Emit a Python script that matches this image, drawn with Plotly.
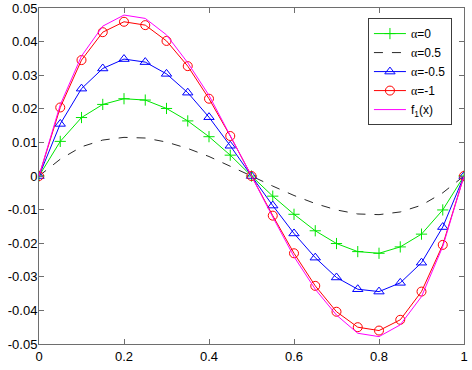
import plotly.graph_objects as go

x = [round(i * 0.05, 2) for i in range(21)]

alpha_0 = [0, 0.0103, 0.0174, 0.0213, 0.0230, 0.0226, 0.0201, 0.0164, 0.0117, 0.0062, 0,
           -0.0060, -0.0114, -0.0163, -0.0201, -0.0225, -0.0230, -0.0211, -0.0173, -0.0101, 0]
alpha_05 = [0, 0.0050, 0.0087, 0.0107, 0.0115, 0.0113, 0.0101, 0.0082, 0.0058, 0.0030, 0,
            -0.0030, -0.0058, -0.0082, -0.0101, -0.0113, -0.0115, -0.0107, -0.0087, -0.0050, 0]
alpha_m05 = [0, 0.0155, 0.0260, 0.0320, 0.0348, 0.0339, 0.0304, 0.0248, 0.0175, 0.0090, 0,
             -0.0088, -0.0171, -0.0243, -0.0302, -0.0337, -0.0344, -0.0318, -0.0258, -0.0152, 0]
alpha_m1 = [0, 0.0204, 0.0345, 0.0428, 0.0459, 0.0449, 0.0402, 0.0327, 0.0230, 0.0119, 0,
            -0.0118, -0.0230, -0.0327, -0.0404, -0.0450, -0.0460, -0.0428, -0.0344, -0.0205, 0]
f1 = [0, 0.0212, 0.0357, 0.0446, 0.0479, 0.0469, 0.0420, 0.0337, 0.0240, 0.0122, 0,
      -0.0122, -0.0240, -0.0337, -0.0414, -0.0468, -0.0478, -0.0443, -0.0359, -0.0210, 0]

x_ticks = [0, 0.2, 0.4, 0.6, 0.8, 1]
x_tick_text = ["0", "0.2", "0.4", "0.6", "0.8", "1"]
y_ticks = [-0.05, -0.04, -0.03, -0.02, -0.01, 0, 0.01, 0.02, 0.03, 0.04, 0.05]
y_tick_text = ["-0.05", "-0.04", "-0.03", "-0.02", "-0.01", "0", "0.01", "0.02", "0.03", "0.04", "0.05"]

A = '<span style="font-family:\'Liberation Serif\', serif">α</span>'

fig = go.Figure()
fig.add_trace(go.Scatter(x=x, y=alpha_0, mode="lines+markers", name=A + "=0",
                         line=dict(color="rgb(0,230,0)", width=1),
                         marker=dict(symbol="cross-thin", size=8, line=dict(color="rgb(0,230,0)", width=1))))
fig.add_trace(go.Scatter(x=x, y=alpha_05, mode="lines", name=A + "=0.5",
                         line=dict(color="rgb(40,40,40)", width=1, dash="dash")))
fig.add_trace(go.Scatter(x=x, y=alpha_m05, mode="lines+markers", name=A + "=-0.5",
                         line=dict(color="rgb(0,0,255)", width=1),
                         marker=dict(symbol="triangle-up-open", size=9, color="rgb(0,0,255)", line=dict(width=1))))
fig.add_trace(go.Scatter(x=x, y=alpha_m1, mode="lines+markers", name=A + "=-1",
                         line=dict(color="rgb(255,0,0)", width=1),
                         marker=dict(symbol="circle-open", size=9, color="rgb(255,0,0)", line=dict(width=1))))
fig.add_trace(go.Scatter(x=x, y=f1, mode="lines", name="f<sub>1</sub>(x)",
                         line=dict(color="rgb(255,0,255)", width=1)))

axis_common = dict(showgrid=False, zeroline=False, showline=True, linecolor="rgb(110,110,110)",
                   linewidth=1, mirror="ticks", ticks="inside", ticklen=5, automargin=False,
                   tickcolor="rgb(110,110,110)", tickfont=dict(family="Liberation Sans, Arial", size=13, color="black"))

fig.update_layout(
    width=472, height=370,
    margin=dict(l=39, r=8, t=8, b=26),
    paper_bgcolor="white", plot_bgcolor="white",
    xaxis=dict(range=[0, 1], tickvals=x_ticks, ticktext=x_tick_text, **axis_common),
    yaxis=dict(range=[-0.05, 0.05], tickvals=y_ticks, ticktext=y_tick_text, ticklabelstandoff=-2, **axis_common),
    legend=dict(x=0.774, y=0.97, xanchor="left", yanchor="top",
                bordercolor="rgb(60,60,60)", borderwidth=1, bgcolor="white",
                font=dict(family="Liberation Sans, Arial", size=12, color="black"),
                itemwidth=32, tracegroupgap=0),
    showlegend=True,
)

fig.write_html("out.html", config={"displayModeBar": False},
               post_script="document.body.style.margin='0';document.body.style.overflow='hidden';")
